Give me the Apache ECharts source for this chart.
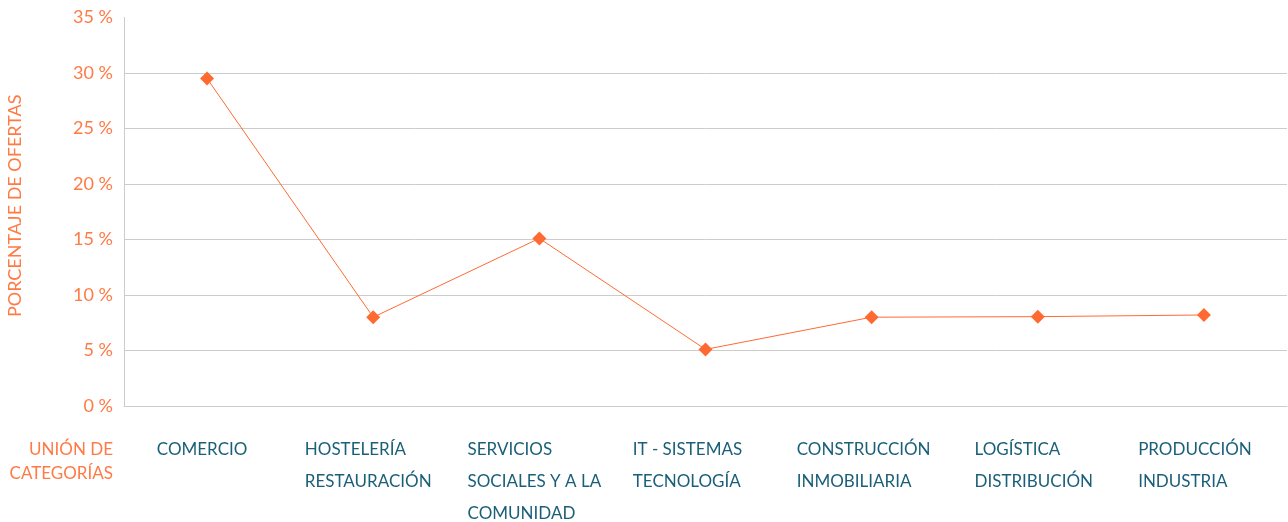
<!DOCTYPE html>
<html>
<head>
<meta charset="utf-8">
<script src="https://cdn.jsdelivr.net/npm/echarts@6/dist/echarts.min.js"></script>
<style>
html,body{margin:0;padding:0;background:#fff;}
#chart{width:1288px;height:522px;}
</style>
</head>
<body>
<div id="chart"></div>
<script>
const categories = [
  ['COMERCIO'],
  ['HOSTELERÍA', 'RESTAURACIÓN'],
  ['SERVICIOS', 'SOCIALES Y A LA', 'COMUNIDAD'],
  ['IT - SISTEMAS', 'TECNOLOGÍA'],
  ['CONSTRUCCIÓN', 'INMOBILIARIA'],
  ['LOGÍSTICA', 'DISTRIBUCIÓN'],
  ['PRODUCCIÓN', 'INDUSTRIA']
];
const values = [29.5, 8.0, 15.1, 5.1, 8.0, 8.05, 8.2];
const yTicks = { min: 0, max: 35, interval: 5 };
const xAxisName = 'UNIÓN DE\nCATEGORÍAS';
const yAxisName = 'PORCENTAJE DE OFERTAS';

// layout only: leftward nudge (px) of each category label block
const labelNudge = [5, 5, 5, 18, 8, 4, 9];

const ORANGE_TEXT = '#ff7a45';
const ORANGE = '#ff6a33';
const TEAL = '#1a5f78';
const FONT = 'Lato';

const chart = echarts.init(document.getElementById('chart'));
chart.setOption({
  animation: false,
  grid: { left: 124, right: 1, top: 17.5, bottom: 116, containLabel: false, outerBoundsMode: 'none' },
  xAxis: {
    type: 'category',
    data: categories.map((c, i) => ({
      value: c.join('\n'),
      textStyle: { padding: [0, 2 * labelNudge[i], 0, 0] }
    })),
    boundaryGap: true,
    name: xAxisName,
    nameLocation: 'start',
    nameGap: 11,
    nameMoveOverlap: false,
    nameTextStyle: {
      color: ORANGE_TEXT, fontFamily: FONT, fontSize: 17, lineHeight: 24,
      align: 'right', verticalAlign: 'top', padding: [32, 0, 0, 0]
    },
    axisLine: { show: true, lineStyle: { color: '#cccccc', width: 1 } },
    axisTick: { show: false },
    splitLine: { show: false },
    axisLabel: {
      interval: 0,
      margin: 28,
      verticalAlign: 'top',
      formatter: function (v) {
        return v.split('\n').map(s => '{a|' + s + '}').join('\n');
      },
      rich: {
        a: { color: TEAL, fontFamily: FONT, fontSize: 17, lineHeight: 32, align: 'left' }
      }
    }
  },
  yAxis: {
    type: 'value',
    min: yTicks.min, max: yTicks.max, interval: yTicks.interval,
    name: yAxisName,
    nameLocation: 'middle',
    nameRotate: 90,
    nameGap: 100,
    nameMoveOverlap: false,
    nameTextStyle: { color: ORANGE_TEXT, fontFamily: FONT, fontSize: 18, padding: [0, 0, 0, 12] },
    axisLine: { show: true, lineStyle: { color: '#cccccc', width: 1 } },
    axisTick: { show: false },
    axisLabel: {
      formatter: '{value} %',
      color: ORANGE_TEXT, fontFamily: FONT, fontSize: 18, margin: 11
    },
    splitLine: { show: true, showMaxLine: false, lineStyle: { color: '#cccccc', width: 1 } }
  },
  series: [{
    type: 'line',
    data: values,
    symbol: 'diamond',
    symbolSize: 14,
    itemStyle: { color: ORANGE },
    lineStyle: { color: ORANGE, width: 1 }
  }]
});
</script>
</body>
</html>
